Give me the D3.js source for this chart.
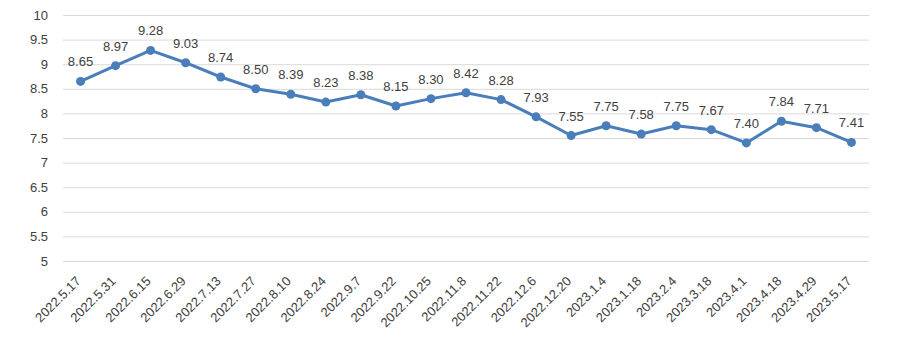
<!DOCTYPE html>
<html><head><meta charset="utf-8">
<script src="https://cdn.jsdelivr.net/npm/d3@7"></script>
<style>body{margin:0;background:#fff}svg{display:block}text{font-family:"Liberation Sans",Arial,sans-serif}</style>
</head><body>
<svg id="c" width="904" height="338"></svg>
<script>
const categories = ["2022.5.17","2022.5.31","2022.6.15","2022.6.29","2022.7.13","2022.7.27","2022.8.10","2022.8.24","2022.9.7","2022.9.22","2022.10.25","2022.11.8","2022.11.22","2022.12.6","2022.12.20","2023.1.4","2023.1.18","2023.2.4","2023.3.18","2023.4.1","2023.4.18","2023.4.29","2023.5.17"];
const values = [8.65,8.97,9.28,9.03,8.74,8.50,8.39,8.23,8.38,8.15,8.30,8.42,8.28,7.93,7.55,7.75,7.58,7.75,7.67,7.40,7.84,7.71,7.41];
const yTicks = [5,5.5,6,6.5,7,7.5,8,8.5,9,9.5,10];

const svg = d3.select("#c");
const x = d3.scaleBand().domain(categories).range([63,869]);
const y = d3.scaleLinear().domain([5,10]).range([261,15]);
const col = "#4a7ebb", txt = "#404040";

const ga = svg.append("g").attr("transform","translate(63,0)")
  .call(d3.axisLeft(y).tickValues(yTicks).tickSize(-806).tickPadding(15).tickFormat(d3.format("")));
ga.select(".domain").remove();
ga.selectAll(".tick line").attr("stroke","#d9d9d9");
ga.selectAll(".tick text").attr("fill",txt).style("font-size","13px");

const gx = svg.append("g").attr("transform","translate(0,261)")
  .call(d3.axisBottom(x).tickSize(0).tickPadding(0));
gx.select(".domain").remove();
gx.selectAll(".tick text").attr("fill",txt).style("font-size","13px")
  .attr("text-anchor","end").attr("dy","0")
  .attr("transform","translate(1,21) rotate(-45)");

const line = d3.line().x((d,i)=>x(categories[i])+x.bandwidth()/2).y(d=>y(d));
svg.append("path").datum(values).attr("d",line).attr("fill","none")
  .attr("stroke",col).attr("stroke-width",3).attr("stroke-linejoin","round");
svg.selectAll("circle.p").data(values).join("circle")
  .attr("cx",(d,i)=>x(categories[i])+x.bandwidth()/2).attr("cy",d=>y(d))
  .attr("r",4.5).attr("fill",col);
svg.selectAll("text.lbl").data(values).join("text").attr("class","lbl")
  .attr("x",(d,i)=>x(categories[i])+x.bandwidth()/2).attr("y",d=>y(d)-15)
  .attr("text-anchor","middle").attr("fill",txt).style("font-size","13px")
  .text(d=>d.toFixed(2));
</script>
</body></html>
